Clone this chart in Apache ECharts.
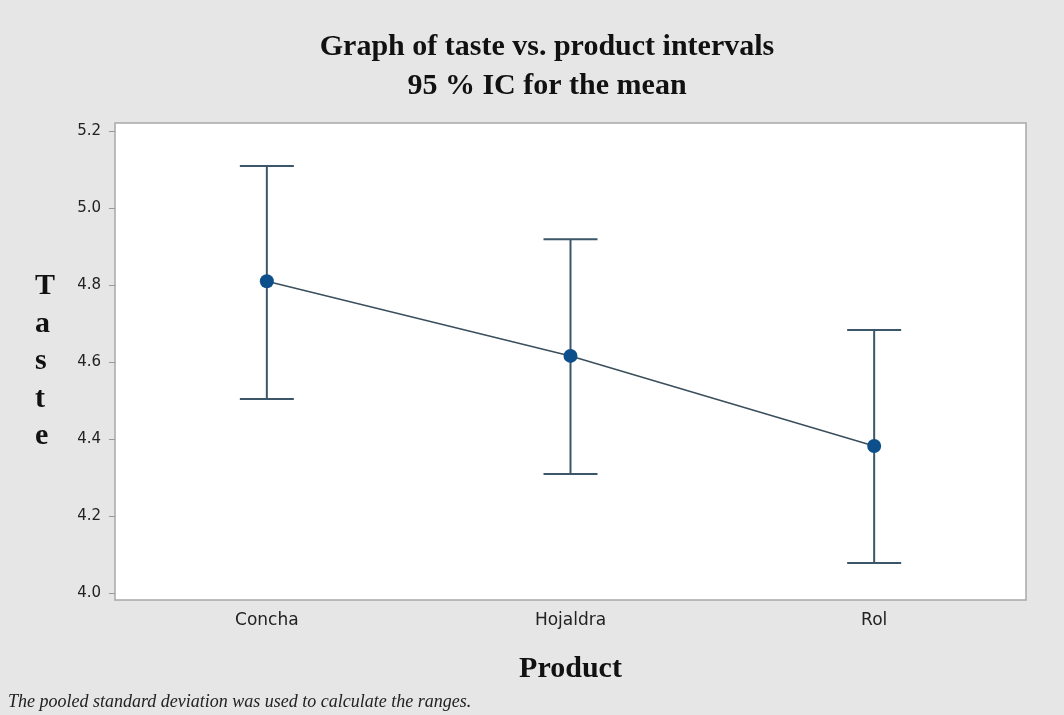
<!DOCTYPE html>
<html>
<head>
<meta charset="utf-8">
<script src="https://cdn.jsdelivr.net/npm/echarts@6/dist/echarts.min.js"></script>
<style>
  html, body { margin: 0; padding: 0; background: #e6e6e6; }
  #chart { width: 1064px; height: 715px; }
</style>
</head>
<body>
<div id="chart"></div>
<script>
var products = ['Concha', 'Hojaldra', 'Rol'];
var means = [4.81, 4.616, 4.382];
var lower = [4.504, 4.309, 4.078];
var upper = [5.109, 4.919, 4.683];
var yTicks = [4.0, 4.2, 4.4, 4.6, 4.8, 5.0, 5.2];

var dom = document.getElementById('chart');
var myChart = echarts.init(dom);

var barData = products.map(function (p, i) {
    return [i, lower[i], upper[i]];
});

var option = {
    backgroundColor: '#e6e6e6',
    animation: false,
    title: {
        text: 'Graph of taste vs. product intervals\n95 % IC for the mean',
        left: 542,
        textAlign: 'center',
        top: 23,
        textStyle: {
            fontFamily: 'Liberation Serif',
            fontWeight: 'bold',
            fontSize: 30,
            lineHeight: 39,
            color: '#111'
        }
    },
    grid: {
        left: 115,
        right: 38,
        top: 123,
        bottom: 115,
        show: true,
        backgroundColor: '#fff',
        borderColor: '#a8a8a8',
        borderWidth: 1.5
    },
    xAxis: {
        type: 'category',
        data: products,
        name: 'Product',
        nameLocation: 'middle',
        nameGap: 54,
        nameTextStyle: {
            fontFamily: 'Liberation Serif',
            fontWeight: 'bold',
            fontSize: 30,
            color: '#111'
        },
        axisLine: { show: false },
        axisTick: { alignWithLabel: true, length: 5, lineStyle: { color: '#999' } },
        axisLabel: { fontSize: 17, color: '#222', margin: 12, fontFamily: 'DejaVu Sans' }
    },
    yAxis: {
        type: 'value',
        min: 3.982,
        max: 5.221,
        name: 'T\na\ns\nt\ne',
        nameLocation: 'middle',
        nameRotate: 0,
        nameGap: 80,
        nameTextStyle: {
            fontFamily: 'Liberation Serif',
            fontWeight: 'bold',
            fontSize: 30,
            lineHeight: 37.5,
            align: 'left',
            padding: [26, 0, 0, 0],
            color: '#111'
        },
        axisLine: { show: false },
        splitLine: { show: false },
        axisTick: { show: true, length: 6, customValues: yTicks, lineStyle: { color: '#999' } },
        axisLabel: {
            customValues: yTicks,
            fontSize: 15,
            color: '#222',
            margin: 14,
            fontFamily: 'DejaVu Sans',
            formatter: function (v) { return v.toFixed(1); }
        }
    },
    series: [
        {
            type: 'custom',
            data: barData,
            z: 2,
            renderItem: function (params, api) {
                var x = api.value(0);
                var lo = api.coord([x, api.value(1)]);
                var hi = api.coord([x, api.value(2)]);
                var w = 27;
                var style = { stroke: '#3b5668', lineWidth: 2 };
                return {
                    type: 'group',
                    children: [
                        { type: 'line', shape: { x1: lo[0], y1: lo[1], x2: hi[0], y2: hi[1] }, style: style },
                        { type: 'line', shape: { x1: hi[0] - w, y1: hi[1], x2: hi[0] + w, y2: hi[1] }, style: style },
                        { type: 'line', shape: { x1: lo[0] - w, y1: lo[1], x2: lo[0] + w, y2: lo[1] }, style: style }
                    ]
                };
            }
        },
        {
            type: 'line',
            data: means,
            z: 3,
            symbol: 'circle',
            symbolSize: 14,
            itemStyle: { color: '#0d4f8b' },
            lineStyle: { color: '#3a4f5c', width: 1.5 }
        }
    ],
    graphic: [
        {
            type: 'text',
            left: 8,
            top: 693,
            style: {
                text: 'The pooled standard deviation was used to calculate the ranges.',
                fontFamily: 'Liberation Serif',
                fontStyle: 'italic',
                fontSize: 18,
                fill: '#222'
            }
        }
    ]
};

if (option && typeof option === 'object') {
    myChart.setOption(option, true);
}

window.addEventListener('resize', function () {
    myChart.resize();
});
</script>
</body>
</html>
